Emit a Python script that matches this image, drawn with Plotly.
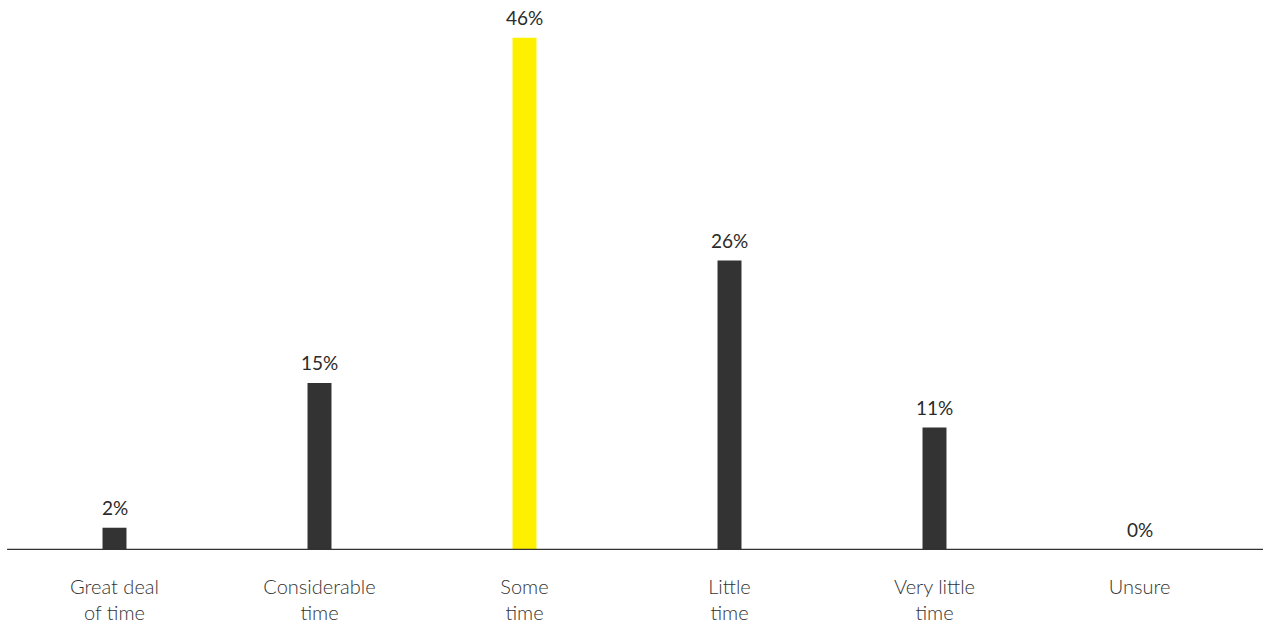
import plotly.graph_objects as go

categories = ["Great deal<br>of time", "Considerable<br>time", "Some<br>time",
              "Little<br>time", "Very little<br>time", "Unsure"]
values = [2, 15, 46, 26, 11, 0]
labels = ["2%", "15%", "46%", "26%", "11%", "0%"]
highlight = "Some<br>time"

colors = ["#FFF000" if c == highlight else "#333333" for c in categories]

FONT = "Lato"

fig = go.Figure(go.Bar(
    x=categories, y=values,
    marker=dict(color=colors, line=dict(width=0)),
    width=0.117, hoverinfo="skip",
))

for c, v, t in zip(categories, values, labels):
    fig.add_annotation(x=c, y=v, text=t, showarrow=False, yanchor="bottom",
                       yshift=7, font=dict(family=FONT, size=19, color="#2a2a2a"))

fig.update_layout(
    width=1263, height=628,
    margin=dict(l=12, r=21, t=10, b=78),
    paper_bgcolor="white", plot_bgcolor="white",
    showlegend=False,
    font=dict(family=FONT, color="#333333"),
    xaxis=dict(showgrid=False, zeroline=False, showline=False, automargin=False,
               tickfont=dict(family=FONT, size=20, color="#333333", weight=300),
               ticks="", ticklabelstandoff=23),
    yaxis=dict(visible=False, range=[0, 48.5], automargin=False),
    shapes=[dict(type="line", xref="paper", yref="y", x0=-0.004, x1=1.03,
                 y0=0, y1=0, line=dict(color="#333333", width=2.5))],
)

fig.write_html("out.html")
